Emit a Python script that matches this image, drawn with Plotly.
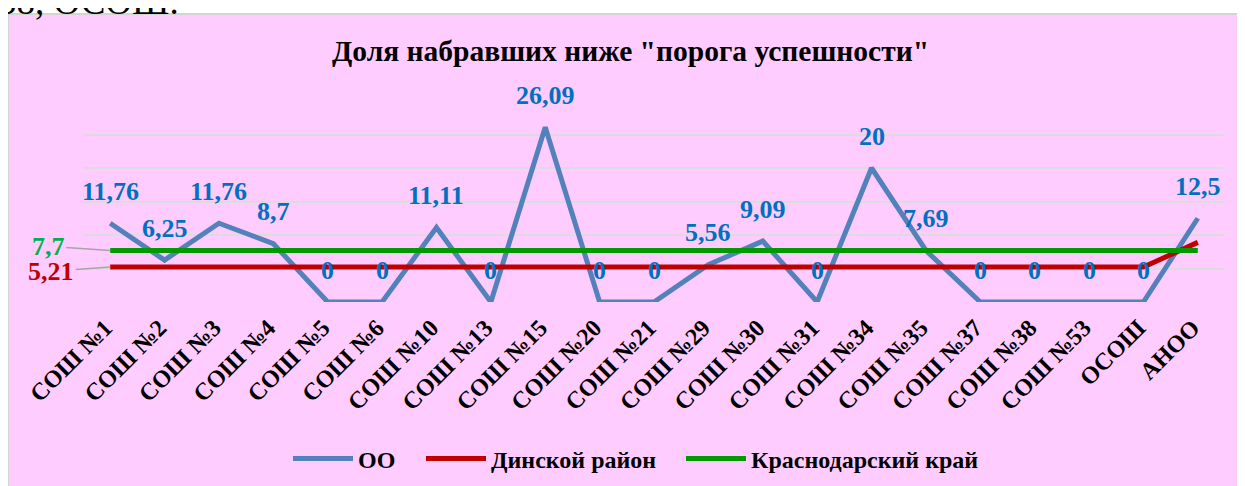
import plotly.graph_objects as go

categories = ["СОШ №1", "СОШ №2", "СОШ №3", "СОШ №4", "СОШ №5", "СОШ №6", "СОШ №10",
              "СОШ №13", "СОШ №15", "СОШ №20", "СОШ №21", "СОШ №29", "СОШ №30", "СОШ №31",
              "СОШ №34", "СОШ №35", "СОШ №37", "СОШ №38", "СОШ №53", "ОСОШ", "АНОО"]
oo_values = [11.76, 6.25, 11.76, 8.7, 0, 0, 11.11, 0, 26.09, 0, 0, 5.56, 9.09, 0,
             20, 7.69, 0, 0, 0, 0, 12.5]
oo_labels = ["11,76", "6,25", "11,76", "8,7", "0", "0", "11,11", "0", "26,09", "0", "0",
             "5,56", "9,09", "0", "20", "7,69", "0", "0", "0", "0", "12,5"]
district_values = [5.21] * 20 + [8.9]
region_values = [7.7] * 21
district_label = "5,21"
region_label = "7,7"
title_text = 'Доля набравших ниже "порога успешности"'
top_text = "58, ОСОШ."

FONT = "Liberation Serif, Times New Roman, serif"
OFF = 8  # page body margin offset
W, H = 1245, 486
# plot area in page pixels: x 83..1225, y 101..302
L = 83 - OFF
T = 101 - OFF
R = W - (1225 - OFF)
B = H - (302 - OFF)
pw, ph = W - L - R, H - T - B


def px_x(x):
    return (x - OFF - L) / pw


def px_y(y):
    return (H - B - (y - OFF)) / ph


fig = go.Figure()
fig.add_trace(go.Scatter(x=categories, y=oo_values, mode="lines", name="ОО",
                         legendwidth=58,
                         line=dict(color="#5281BC", width=5)))
fig.add_trace(go.Scatter(x=categories, y=district_values, mode="lines", name="Динской район",
                         legendwidth=185,
                         line=dict(color="#C00000", width=5)))
fig.add_trace(go.Scatter(x=categories, y=region_values, mode="lines", name="Краснодарский край",
                         line=dict(color="#009A00", width=5)))

annotations = []
for c, v, t in zip(categories, oo_values, oo_labels):
    annotations.append(dict(x=c, y=v, text=t, showarrow=False, yshift=32,
                            font=dict(family=FONT, size=26, color="#0070C0", weight="bold")))
annotations.append(dict(x=categories[0], y=region_values[0], text=region_label,
                        showarrow=True, arrowhead=0, arrowcolor="#A6A6A6", arrowwidth=1.5,
                        ax=-62, ay=-4, standoff=0,
                        font=dict(family=FONT, size=26, color="#00B050", weight="bold")))
annotations.append(dict(x=categories[0], y=district_values[0], text=district_label,
                        showarrow=True, arrowhead=0, arrowcolor="#A6A6A6", arrowwidth=1.5,
                        ax=-59, ay=4, standoff=0,
                        font=dict(family=FONT, size=26, color="#C00000", weight="bold")))
annotations.append(dict(xref="paper", yref="paper", x=px_x(630), y=px_y(51),
                        text=title_text, showarrow=False, xanchor="center", yanchor="middle",
                        font=dict(family=FONT, size=29.5, color="#000000", weight="bold")))
annotations.append(dict(xref="paper", yref="paper", x=px_x(-4), y=px_y(1),
                        text=top_text, showarrow=False, xanchor="left", yanchor="middle",
                        font=dict(family=FONT, size=37, color="#000000")))

fig.update_layout(
    width=W, height=H,
    margin=dict(l=L, r=R, t=T, b=B, autoexpand=False),
    paper_bgcolor="#FFFFFF",
    plot_bgcolor="rgba(0,0,0,0)",
    showlegend=True,
    legend=dict(orientation="h", x=px_x(288), xanchor="left", y=px_y(459), yanchor="middle",
                itemwidth=60,
                font=dict(family=FONT, size=24, color="#000000", weight="bold"),
                bgcolor="rgba(0,0,0,0)"),
    annotations=annotations,
    shapes=[dict(type="rect", xref="paper", yref="paper", layer="below",
                 x0=px_x(8), x1=px_x(1270), y0=px_y(520), y1=px_y(14),
                 fillcolor="#FFCCFF", line=dict(color="#D4D4D4", width=2))],
    xaxis=dict(type="category", range=[-0.5, len(categories) - 0.5], showgrid=False,
               showline=False, ticks="", tickangle=-45, automargin=False,
               ticklabelstandoff=6, ticklabelshift=-5,
               tickfont=dict(family=FONT, size=24, color="#000000", weight="bold")),
    yaxis=dict(range=[0, 30], dtick=5, showgrid=True, gridcolor="#DCDCDC", gridwidth=2,
               zeroline=False, showticklabels=False, showline=False, ticks="", automargin=False),
)

fig.write_html("out.html")
